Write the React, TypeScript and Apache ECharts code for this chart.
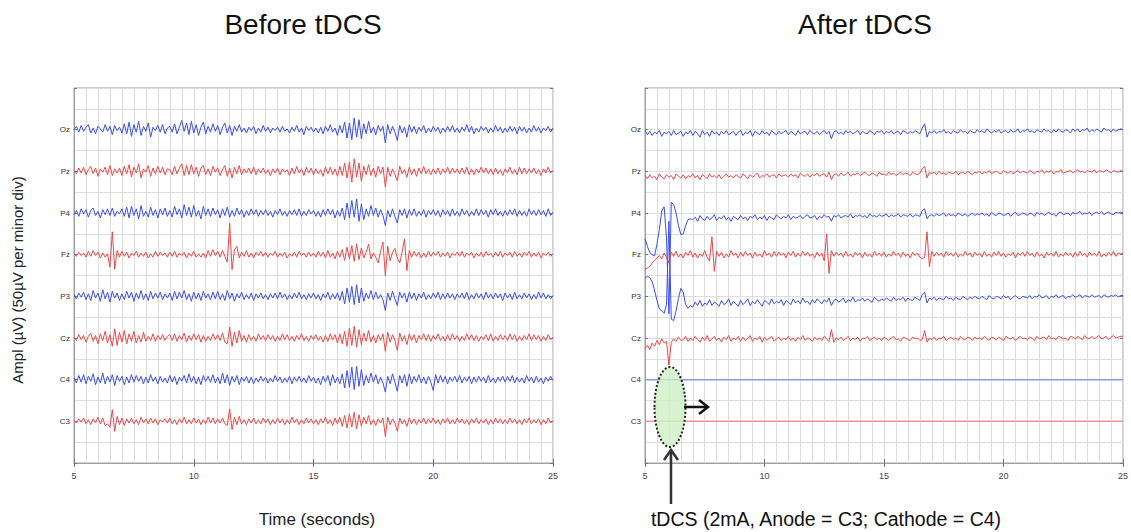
import React, { useEffect, useRef } from 'react';
import * as echarts from 'echarts';

// ---- axis / label data ----
const channelNames = ['Oz', 'Pz', 'P4', 'Fz', 'P3', 'Cz', 'C4', 'C3'];
const channelPos = [8, 7, 6, 5, 4, 3, 2, 1];
const channelColors = ['blue', 'red', 'blue', 'red', 'blue', 'red', 'blue', 'red'];
const panelTitles = ['Before tDCS', 'After tDCS'];
const timeMin = 5;
const timeMax = 25;
// sample times (seconds), 0.1 s step
const times = Array.from({ length: 201 }, (_, i) => Math.round((5 + i * 0.1) * 10) / 10);
const flatTimes = [5, 25];

// ---- amplitudes in µV (100 µV = one channel spacing) ----
const beforeOz = [
  0,8,-6,10,-4,6,12,-8,4,-10,8,2,-6,12,-4,8,-12,10,-2,6,
  -8,14,-10,18,-16,12,-6,20,-14,8,-4,16,-18,6,-2,10,-6,12,-10,4,
  8,-6,14,-10,6,22,-4,16,-12,20,-8,12,-14,6,18,-10,8,-6,14,-4,
  10,-12,6,16,-8,10,-14,8,-4,12,-6,4,-8,6,-2,8,-10,4,-6,10,
  -4,6,-8,4,-2,6,-6,8,-4,2,-8,6,-4,10,-6,4,-12,8,-2,6,
  -6,4,-8,6,-10,8,-4,12,-6,4,-14,10,-8,18,-20,16,-24,28,-18,24,
  -22,14,-10,20,-8,6,-12,10,-4,8,-32,12,-10,8,-6,-26,10,-8,6,-18,
  12,-6,8,-10,6,-4,10,-8,4,-6,8,-4,6,-10,4,-6,8,-4,10,-6,
  4,-8,6,-4,12,-6,8,-10,4,-6,8,-2,6,-8,4,-6,10,-4,6,-8,
  4,-6,8,-4,6,-10,8,-4,6,-8,4,-6,10,-4,6,-8,4,-2,8,-6,
  4,
];
const beforePz = [
  2,-6,8,-4,10,-8,4,12,-6,8,-12,6,-2,10,-8,14,-10,6,-4,8,
  -10,12,-6,16,-14,10,-4,18,-16,6,-2,14,-12,8,-6,12,-4,10,-8,6,
  4,-8,12,-6,8,18,-10,14,-8,16,-6,10,-12,8,14,-8,6,-10,12,-2,
  8,-10,4,14,-12,8,-16,10,-6,14,-8,6,-4,8,-6,10,-8,6,-4,8,
  -6,4,-10,6,-4,8,-8,6,-2,4,-10,8,-6,12,-4,6,-10,10,-4,8,
  -8,6,-6,4,-12,10,-6,10,-8,6,-12,12,-10,20,-16,22,-26,30,-14,20,
  -24,12,-8,16,-10,8,-14,12,-6,10,-38,10,-12,6,-8,-22,12,-6,4,-14,
  10,-8,6,-12,8,-6,12,-6,6,-8,6,-6,8,-8,6,-4,10,-6,8,-4,
  6,-6,8,-6,10,-8,6,-8,6,-4,10,-4,8,-6,6,-8,8,-6,4,-10,
  6,-4,10,-6,4,-8,10,-6,8,-6,6,-4,8,-6,4,-10,6,-4,10,-4,
  2,
];
const beforeP4 = [
  -4,6,-8,10,-2,8,-10,6,12,-6,4,-12,8,-4,10,-6,12,-8,4,-2,
  10,-8,14,-12,16,-6,10,-14,18,-8,4,-10,14,-6,8,-12,10,-4,12,-8,
  6,-10,16,-4,10,-12,20,-6,14,-10,18,-8,6,-14,16,-6,10,-8,12,-4,
  8,-12,10,-6,14,-10,6,-8,12,-4,8,-10,6,-6,10,-4,8,-8,6,-4,
  8,-6,4,-10,6,-4,10,-6,4,-8,6,-4,8,-6,10,-8,4,-6,8,-2,
  6,-8,4,-10,8,-6,10,-4,8,-12,6,-8,12,-16,24,-12,30,-10,34,-20,
  22,-16,10,-8,18,-6,12,-10,8,-6,-30,6,-10,10,-8,-24,8,-6,10,-12,
  8,-6,10,-8,4,-6,8,-10,6,-4,8,-6,6,-10,8,-4,6,-8,10,-6,
  4,-8,10,-4,6,-8,4,-6,10,-6,8,-4,6,-10,8,-4,10,-6,4,-8,
  6,-6,8,-4,10,-8,6,-6,4,-8,10,-4,6,-6,8,-4,6,-8,10,-6,
  2,
];
const beforeFz = [
  2,-4,6,-2,4,-6,8,-4,10,-2,6,-8,4,-6,2,-30,55,-35,10,-6,
  8,-4,6,-8,4,-2,8,-6,4,-4,6,-8,2,-6,8,-4,6,-2,4,-6,
  6,-4,8,-6,4,-2,6,-8,4,-4,8,-6,2,-6,4,-8,10,-4,12,-2,
  8,-6,10,-4,-18,75,-36,12,20,-8,6,-4,10,-6,4,-8,6,-2,8,-4,
  6,-6,4,-2,8,-6,4,-4,6,-8,2,-4,6,-6,8,-2,4,-6,6,-4,
  4,-6,8,-4,6,-8,10,-6,4,-10,8,-6,12,-14,18,-10,22,-16,26,-12,
  16,-8,6,25,-10,4,-6,-20,8,30,-50,20,-15,6,15,-8,-20,6,38,-38,
  10,-6,8,-4,6,-8,4,-6,8,-4,6,-2,8,-6,4,-4,6,-8,4,-2,
  6,-4,8,-6,4,-2,6,-8,4,-4,6,-6,8,-2,4,-6,6,-4,8,-6,
  4,-2,6,-6,8,-4,4,-6,6,-2,8,-6,4,-4,6,-8,4,-2,6,-4,
  2,
];
const beforeP3 = [
  4,-6,8,-2,10,-8,6,-10,14,-4,8,-12,16,-6,10,-14,12,-4,8,-10,
  6,-8,12,-4,10,-12,8,-6,14,-8,6,-10,12,-6,8,-4,10,-8,6,-4,
  8,-10,12,-6,10,-4,14,-8,6,-12,10,-6,8,-10,12,-4,6,-8,10,-6,
  12,-8,6,-10,14,-6,8,-12,6,-4,10,-8,4,-6,8,-10,6,-4,8,-6,
  4,-8,6,-4,8,-6,10,-4,6,-8,4,-6,8,-4,10,-6,4,-8,6,-4,
  8,-6,4,-10,6,-4,10,-8,6,-6,8,-10,12,-18,20,-14,24,-20,28,-16,
  20,-12,8,-6,14,-8,10,-6,4,-8,-34,8,-10,12,-6,-22,10,-4,8,-14,
  10,-6,8,-10,6,-4,10,-8,4,-6,8,-4,10,-8,6,-6,8,-4,6,-8,
  6,-4,8,-6,10,-8,4,-6,8,-4,6,-8,10,-4,6,-6,8,-4,6,-10,
  8,-4,6,-8,10,-6,4,-6,8,-4,6,-8,4,-6,10,-4,8,-6,4,-6,
  2,
];
const beforeCz = [
  2,-6,8,-4,6,-10,4,12,-8,6,-14,10,-6,16,-12,8,-20,22,-18,14,
  -10,18,-14,10,-8,16,-12,6,-10,14,-8,4,-6,10,-8,6,-4,8,-6,4,
  8,-6,10,-8,6,-4,12,-10,6,-6,10,-4,8,-10,6,-8,4,-6,10,-4,
  8,-6,12,-10,-14,26,-20,14,-12,18,-8,6,-10,8,-6,4,-8,10,-4,6,
  -6,8,-4,6,-8,4,-6,10,-4,8,-6,4,-8,6,-4,10,-6,4,-8,6,
  -4,8,-6,4,-10,6,-8,10,-4,8,-12,10,-14,16,-20,24,-18,28,-22,20,
  -16,12,-8,18,-10,6,-12,8,-6,10,-32,14,-10,8,-6,-30,12,-8,6,-16,
  10,-6,8,-12,6,-4,10,-6,8,-8,6,-4,10,-6,4,-8,8,-6,10,-4,
  6,-8,4,-6,10,-4,8,-6,6,-8,4,-4,8,-6,10,-8,4,-6,8,-4,
  6,-6,10,-4,8,-8,4,-6,6,-4,10,-6,8,-4,6,-8,4,-6,8,-4,
  2,
];
const beforeC4 = [
  4,-8,10,-6,12,-10,8,-4,14,-12,6,-8,16,-10,8,-6,12,-14,10,-4,
  8,-12,6,-8,12,-6,10,-4,8,-10,6,-8,12,-4,6,-10,8,-6,4,-8,
  10,-6,8,-12,6,-4,10,-8,14,-6,8,-10,6,-12,10,-4,8,-6,12,-8,
  6,-10,16,-8,12,-14,8,-6,10,-12,6,-4,8,-8,6,-10,4,-6,8,-4,
  6,-8,4,-6,10,-4,6,-8,4,-6,8,-10,6,-4,8,-6,4,-8,10,-4,
  6,-8,4,-12,8,-6,10,-14,12,-8,6,-10,14,-20,22,-18,30,-24,32,-16,
  24,-14,10,-8,16,-6,12,-10,6,-8,-30,8,-10,14,-6,-28,10,-8,12,-16,
  14,-10,8,-6,12,-8,6,-10,8,-6,-26,12,-8,10,-6,8,-10,6,-4,8,
  -6,10,-8,6,-4,8,-10,6,-6,8,-4,6,-8,10,-6,4,-8,6,-4,8,
  -6,8,-4,10,-8,6,-6,4,-8,10,-4,6,-8,8,-6,4,-10,6,-4,8,
  -2,
];
const beforeC3 = [
  2,-4,6,-2,8,-6,4,-8,6,-4,10,-6,8,-10,-6,-14,28,-24,12,-8,
  8,-10,6,-4,8,-6,4,-8,10,-4,6,-6,8,-4,6,-8,4,-2,6,-4,
  8,-6,4,-8,6,-4,10,-6,4,-6,8,-4,6,-8,4,-6,10,-4,8,-6,
  6,-4,8,-6,-10,30,-20,10,-8,12,-6,4,-8,6,-4,8,-6,4,-6,8,
  -4,6,-8,4,-6,8,-4,6,-8,4,-6,10,-4,6,-8,4,-6,8,-4,6,
  -6,4,-8,6,-4,10,-6,4,-10,8,-6,10,-12,14,-16,18,-14,22,-18,16,
  -12,10,-6,14,-8,4,-10,6,-4,8,-36,10,-8,6,-4,-24,8,-6,4,-12,
  8,-6,6,-8,4,-4,8,-6,6,-4,8,-6,4,-8,6,-4,8,-6,4,-6,
  8,-4,6,-6,4,-8,6,-4,8,-6,4,-4,6,-8,4,-6,8,-4,6,-6,
  4,-6,8,-4,6,-6,4,-8,6,-4,8,-6,4,-4,6,-8,4,-6,8,-4,
  2,
];

const afterOz = [
  -2,-12,-4,-14,-6,-10,-2,-16,-6,-10,-4,-14,-2,-12,-8,-4,-16,-6,-10,-2,
  -14,-4,-10,-18,-2,-12,-6,-16,-2,-10,-6,-14,-4,-10,-2,-12,-8,-4,-14,-6,
  -2,-14,-6,-10,-2,-16,-4,-8,-12,-2,-10,-6,-14,-2,-8,-12,-4,-10,-6,-2,
  -12,-4,-8,-14,-2,-10,-6,-4,-12,-2,-8,-10,-4,-12,-6,-2,-10,-4,-22,-6,
  -2,-10,-6,-12,-2,-8,-4,-10,-6,-2,-12,-4,-8,-10,-2,-6,-12,-4,-6,-2,
  -10,-4,-8,-2,-10,-6,-4,-12,-2,-6,-10,-4,-8,-2,-6,-10,4,14,-18,-4,
  -8,-2,-10,-4,-6,0,-8,-4,-10,-2,-6,-8,0,-6,-4,-10,-2,-6,-8,0,
  -6,-2,-8,2,-4,-8,-2,-6,0,-8,-4,-2,-8,0,-6,-4,2,-8,-2,-4,
  2,-6,-2,-8,0,-4,-6,2,-4,-2,-8,0,-6,2,-4,-6,0,-2,-8,2,
  -4,2,-6,0,-2,4,-6,0,-4,2,-2,-6,4,-2,0,-6,2,-4,0,2,
  0,
];
const afterPz = [
  -10,-18,-8,-16,-12,-20,-6,-14,-18,-8,-14,-10,-20,-6,-12,-16,-8,-18,-10,-14,
  -6,-16,-10,-20,-8,-12,-18,-6,-14,-10,-16,-8,-18,-12,-6,-14,-10,-16,-8,-12,
  -16,-6,-12,-18,-8,-14,-10,-4,-16,-10,-12,-6,-14,-10,-8,-16,-6,-12,-10,-8,
  -14,-6,-12,-8,-16,-4,-10,-12,-6,-14,-8,-10,-4,-12,-8,-6,-14,-2,-20,-8,
  -6,-12,-4,-10,-8,-2,-12,-6,-8,-4,-10,-6,-2,-8,-10,-4,-6,-12,-2,-8,
  -6,-10,-2,-8,-4,-10,-6,-2,-8,-4,-6,-10,-2,-6,-8,-4,6,12,-16,-2,
  -6,-2,-8,0,-6,-4,-8,-2,-4,-6,0,-8,-4,-2,-6,0,-4,-8,-2,-4,
  0,-6,-2,-4,2,-6,-2,0,-4,-6,2,-2,-4,0,-6,-2,2,-4,0,-2,
  -4,2,-2,-6,0,-2,4,-4,0,-2,2,-6,0,-2,4,-4,-2,0,2,-4,
  0,4,-2,0,-4,2,0,-2,4,-4,2,0,-2,4,0,-4,2,0,-2,2,
  0,
];
const afterP4 = [
  -62,-80,-95,-100,-103,-75,-40,5,15,-60,-242,26,20,0,-30,-52,-50,-30,-16,-14,
  -16,-10,-20,-6,-14,-18,-8,-16,-12,-4,-18,-10,-14,-6,-16,-10,-20,-8,-12,-16,
  -6,-14,-10,-18,-8,-12,-4,-16,-10,-14,-6,-18,-8,-12,-16,-4,-10,-14,-8,-12,
  -4,-16,-8,-12,-10,-6,-14,-8,-4,-12,-10,-6,-16,-8,-12,-4,-10,-8,-20,-6,
  -10,-4,-12,-8,-6,-10,-2,-12,-6,-8,-4,-10,-6,-12,-2,-8,-6,-10,-4,-8,
  -6,-2,-10,-4,-8,-6,-2,-10,-4,-6,-8,-2,-10,-4,-6,-8,6,10,-14,-6,
  -4,-8,-2,-6,-4,0,-8,-2,-6,-4,-8,0,-4,-6,-2,-8,-4,0,-6,-2,
  -4,0,-6,-2,-8,2,-4,-6,0,-2,-6,-4,0,-8,-2,2,-6,-4,0,-2,
  -6,0,-2,-8,2,-4,0,-6,-2,2,-4,-2,-8,0,2,-4,-2,0,-6,2,
  -2,0,4,-4,0,-2,2,-6,0,2,-2,4,-4,0,2,-2,-4,2,0,2,
  0,
];
const afterFz = [
  -35,-32,-28,-20,-14,-8,-2,-10,4,-6,-20,6,-4,8,-6,2,-8,6,-2,10,
  -6,4,-8,2,-4,10,-6,-15,43,-40,8,-4,6,-8,2,-6,10,-2,4,-8,
  6,-4,8,-2,4,-8,6,-4,2,-6,10,-2,4,-6,8,-4,6,-2,4,-8,
  6,-2,8,-6,4,-4,8,-2,6,-4,2,-8,6,-4,4,-15,50,-45,10,-4,
  6,-2,4,-6,8,-4,2,-6,6,-2,4,-8,6,-4,2,-6,8,-2,4,-4,
  6,-6,2,-4,8,-2,4,-6,6,-4,2,-8,6,-2,4,-6,-10,-6,55,-29,
  8,-4,6,-2,4,-6,8,-2,4,-4,6,-6,2,-4,8,-2,4,-6,6,-2,
  4,-6,8,-4,2,-6,6,-2,8,-4,4,-6,2,-2,6,-8,4,-2,6,-4,
  8,-2,4,-6,6,-4,2,-8,6,-2,4,-4,8,-6,2,-4,6,-2,4,-6,
  6,-4,8,-2,4,-6,6,-2,4,-4,8,-6,2,-4,6,-2,8,-4,4,2,
  4,
];
const afterP3 = [
  43,48,45,35,15,-10,-30,-35,-41,-20,180,-55,-58,-35,-5,19,10,-20,-29,-22,
  -26,-14,-22,-10,-24,-16,-20,-8,-22,-14,-18,-24,-10,-20,-16,-6,-22,-12,-18,-24,
  -10,-20,-14,-6,-22,-12,-18,-8,-16,-24,-10,-14,-20,-6,-18,-12,-16,-8,-22,-10,
  -14,-20,-6,-16,-10,-18,-4,-14,-12,-20,-8,-16,-6,-12,-18,-8,-14,-4,-22,-10,
  -6,-14,-10,-4,-16,-8,-12,-2,-14,-8,-10,-4,-12,-6,-10,-14,-2,-8,-12,-6,
  -10,-4,-8,-12,-2,-10,-6,-8,-2,-12,-4,-8,-10,-2,-6,-10,4,10,-16,-4,
  -8,-2,-10,-4,-6,-8,0,-6,-4,-10,-2,-6,-8,0,-4,-8,-2,-6,0,-4,
  -6,0,-4,-8,2,-4,-6,0,-2,-6,2,-4,0,-8,-2,2,-4,-6,0,-2,
  -4,2,-6,0,-2,4,-4,-2,2,-6,0,-2,4,-4,0,2,-6,0,-2,4,
  -2,0,4,-4,2,0,-2,4,-2,0,2,-4,4,0,-2,2,0,4,-2,2,
  2,
];
const afterCz = [
  -25,-18,-28,-12,-20,-6,-16,-2,-12,-8,-65,-10,-2,-8,2,-6,-4,4,-8,0,
  -6,4,-4,-10,2,-6,6,-8,-2,4,-6,0,-10,2,-4,6,-8,0,-4,4,
  -8,2,-6,-2,6,-8,0,-4,4,-10,2,-6,0,4,-8,-2,2,-6,0,-4,
  4,-6,0,-8,2,-4,6,-6,0,-2,-8,2,-4,0,-6,4,-2,-8,20,-10,
  0,-4,2,-6,-2,4,-6,0,-4,2,-8,0,-2,4,-6,-2,2,-4,0,-6,
  2,-2,-6,0,4,-4,-2,-8,2,0,-4,-6,2,-2,0,-6,-4,18,-10,0,
  -4,2,-6,0,-2,4,-6,-2,2,-4,0,-6,4,-2,-4,2,0,-6,2,-2,
  0,-4,4,-2,-6,2,0,-4,2,-2,-6,4,0,-2,2,-6,0,4,-2,0,
  -4,2,0,-6,4,-2,0,2,-4,6,-2,0,-4,4,2,-2,0,-6,4,2,
  -2,4,0,-4,6,0,-2,4,-2,2,6,-2,0,4,-4,2,6,0,2,4,
  4,
];
// stimulation electrodes: flat after tDCS
const afterC4 = [0, 0];
const afterC3 = [0, 0];

const beforeTraces = [beforeOz, beforePz, beforeP4, beforeFz, beforeP3, beforeCz, beforeC4, beforeC3];
const afterTraces = [afterOz, afterPz, afterP4, afterFz, afterP3, afterCz, afterC4, afterC3];

const FONT = 'Liberation Sans, Arial, Helvetica, sans-serif';
const BLUE = '#3a4ef0';
const RED = '#ef4848';
const BLUE_FLAT = '#8c98f2';
const RED_FLAT = '#f29494';
const GRID_LINE = '#dedede';
const FRAME = '#a0a0a0';

function labelFor(v: number): string {
  const idx = channelPos.indexOf(Math.round(v));
  return idx >= 0 && Math.abs(v - Math.round(v)) < 1e-6 ? channelNames[idx] : '';
}

function buildOption() {
  const grids = [
    { left: 74, top: 88, width: 479, height: 375, show: true, borderColor: FRAME, borderWidth: 1 },
    { left: 645, top: 88, width: 478, height: 375, show: true, borderColor: FRAME, borderWidth: 1 },
  ];
  const xAxes: any[] = [];
  const yAxes: any[] = [];
  [0, 1].forEach((g) => {
    xAxes.push({
      type: 'value', gridIndex: g, min: timeMin, max: timeMax, interval: 5, position: 'bottom',
      axisLine: { show: true, lineStyle: { color: FRAME } },
      axisTick: { show: true, inside: true, length: 4, lineStyle: { color: '#777' } },
      axisLabel: { fontSize: 9, color: '#444', margin: 8, fontFamily: FONT },
      splitLine: { show: true, lineStyle: { color: GRID_LINE, width: 1 } },
      minorTick: { show: false, splitNumber: 10 },
      minorSplitLine: { show: true, lineStyle: { color: GRID_LINE, width: 1 } },
    });
    xAxes.push({
      type: 'value', gridIndex: g, min: timeMin, max: timeMax, interval: 5, position: 'top',
      axisLine: { show: false },
      axisTick: { show: true, inside: true, length: 4, lineStyle: { color: '#777' } },
      axisLabel: { show: false }, splitLine: { show: false },
    });
    yAxes.push({
      type: 'value', gridIndex: g, min: 0, max: 9, interval: 1, position: 'left',
      axisLine: { show: true, lineStyle: { color: FRAME } },
      axisTick: { show: true, inside: true, length: 3, lineStyle: { color: '#777' } },
      axisLabel: { formatter: (v: number) => labelFor(v), fontSize: 8, color: '#333', margin: 4, fontFamily: FONT },
      splitLine: { show: true, lineStyle: { color: GRID_LINE, width: 1 } },
      minorTick: { show: false, splitNumber: 2 },
      minorSplitLine: { show: true, lineStyle: { color: GRID_LINE, width: 1 } },
    });
    yAxes.push({
      type: 'value', gridIndex: g, min: 0, max: 9, interval: 1, position: 'right',
      axisLine: { show: false },
      axisTick: { show: true, inside: true, length: 3, lineStyle: { color: '#777' } },
      axisLabel: { show: false }, splitLine: { show: false },
    });
  });

  const series: any[] = [];
  const addPanel = (traces: number[][], g: number) => {
    traces.forEach((vals, c) => {
      const isFlat = vals.length !== times.length;
      const t = isFlat ? flatTimes : times;
      const isBlue = channelColors[c] === 'blue';
      const color = isFlat ? (isBlue ? BLUE_FLAT : RED_FLAT) : isBlue ? BLUE : RED;
      series.push({
        type: 'line', name: `${panelTitles[g]} ${channelNames[c]}`,
        xAxisIndex: g * 2, yAxisIndex: g * 2,
        data: vals.map((v, i) => [t[i], channelPos[c] + v / 100]),
        symbol: 'none', showSymbol: false, silent: true,
        lineStyle: { color, width: isFlat ? 1.5 : 1 },
        z: 3,
      });
    });
  };
  addPanel(beforeTraces, 0);
  addPanel(afterTraces, 1);

  const graphic: any[] = [
    { type: 'text', x: 303, y: 24, z: 100, style: { text: panelTitles[0], font: `28px ${FONT}`, fill: '#111', textAlign: 'center', textVerticalAlign: 'middle' } },
    { type: 'text', x: 865, y: 24, z: 100, style: { text: panelTitles[1], font: `28px ${FONT}`, fill: '#111', textAlign: 'center', textVerticalAlign: 'middle' } },
    { type: 'text', x: 17, y: 280, rotation: Math.PI / 2, z: 100, style: { text: 'Ampl (µV) (50µV per minor div)', font: `15px ${FONT}`, fill: '#222', textAlign: 'center', textVerticalAlign: 'middle' } },
    { type: 'text', x: 317, y: 519, z: 100, style: { text: 'Time (seconds)', font: `17px ${FONT}`, fill: '#222', textAlign: 'center', textVerticalAlign: 'middle' } },
    { type: 'text', x: 826, y: 519, z: 100, style: { text: 'tDCS (2mA, Anode = C3; Cathode = C4)', font: `19.5px ${FONT}`, fill: '#111', textAlign: 'center', textVerticalAlign: 'middle' } },
    { type: 'ellipse', z: 100, shape: { cx: 670, cy: 407, rx: 15.5, ry: 40 }, style: { fill: 'rgba(205,240,195,0.8)', stroke: '#222', lineWidth: 2, lineDash: [2, 2] } },
    { type: 'line', z: 100, shape: { x1: 684, y1: 407, x2: 707, y2: 407 }, style: { stroke: '#111', lineWidth: 2.5 } },
    { type: 'polyline', z: 100, shape: { points: [[699, 400], [708, 407], [699, 414]] }, style: { stroke: '#111', lineWidth: 2.5, fill: null } },
    { type: 'line', z: 100, shape: { x1: 671, y1: 504, x2: 671, y2: 451 }, style: { stroke: '#333', lineWidth: 2.5 } },
    { type: 'polyline', z: 100, shape: { points: [[664, 460], [671, 450], [678, 460]] }, style: { stroke: '#333', lineWidth: 2.5, fill: null } },
  ];

  return {
    animation: false,
    backgroundColor: '#ffffff',
    grid: grids,
    xAxis: xAxes,
    yAxis: yAxes,
    series,
    graphic,
  };
}

export default function App() {
  const ref = useRef<HTMLDivElement>(null);
  useEffect(() => {
    if (!ref.current) return;
    const chart = echarts.init(ref.current, null, { renderer: 'svg' });
    chart.setOption(buildOption() as any);
    return () => chart.dispose();
  }, []);
  return (
    <div
      ref={ref}
      style={{ position: 'fixed', left: 0, top: 0, width: 1131, height: 532, background: '#fff' }}
    />
  );
}
